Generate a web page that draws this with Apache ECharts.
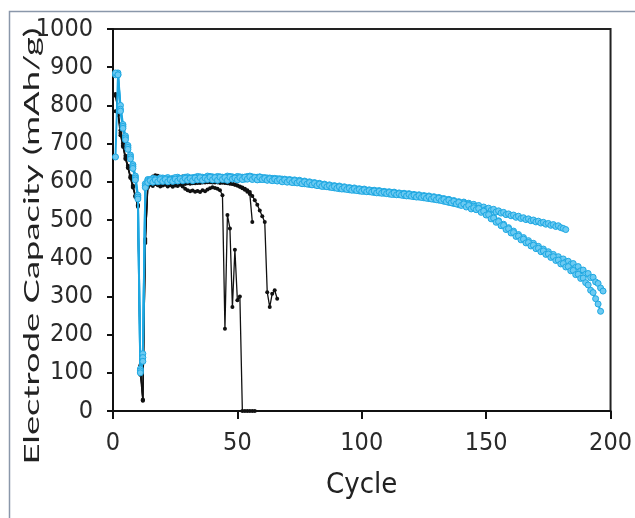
<!DOCTYPE html>
<html>
<head>
<meta charset="utf-8">
<title>Electrode Capacity vs Cycle</title>
<script src="https://cdn.jsdelivr.net/npm/echarts@6/dist/echarts.min.js"></script>
<style>
  html, body { margin: 0; padding: 0; background: #fff; }
  #main { width: 635px; height: 518px; }
</style>
</head>
<body>
<div id="main"></div>
<script>
"use strict";

// x axis ticks / y axis ticks
var cycleTicks = [0, 50, 100, 150, 200];
var capacityTicks = [0, 100, 200, 300, 400, 500, 600, 700, 800, 900, 1000];

// black cells (one value per cycle, starting at cycle 1)
var blackA = [825, 790, 735, 700, 668, 642, 615, 590, 565, 540,
    120, 27, 445, 590,
    592, 589, 594, 591, 588, 590,
    592, 588, 591, 587, 590, 589, 592, 588, 582, 578,
    575, 577, 574, 576, 573, 578, 575, 580, 583, 586,
    584, 582, 578, 565,
    215, 513, 478, 272, 422, 290, 300,
    0, 0, 0, 0, 0, 0];
var blackB = [785, 775, 722, 692, 660, 636, 610, 585, 560, 535,
    95, 28, 440, 595,
    608, 614, 617, 616, 612, 606,
    603, 600, 604, 601, 605, 602, 610, 614, 600, 597,
    598, 596, 599, 597, 600, 598, 601, 599, 600, 598, 601, 599, 600, 598,
    598, 597, 596, 595, 593, 590, 587, 583, 579, 574, 568,
    495];
var blackC = [830, 785, 728, 695, 662, 638, 612, 588, 562, 538,
    110, 30, 450, 585,
    596, 598, 594, 597, 593, 596,
    594, 597, 593, 596, 594, 598, 595, 597, 594, 596,
    595, 598, 596, 599, 597, 600, 598, 601, 599, 600, 598, 599, 597, 598,
    597, 596, 595, 594, 592, 590, 588, 585, 582, 578, 573, 563, 552, 540, 525, 510, 495,
    311, 272, 307, 316, 294];

// blue cells
var blue1 = [880, 885, 800, 750, 720, 695, 670, 645, 615, 565, 110, 150, 595,
    606, 601, 609, 604, 607, 602, 610,
    605, 611, 606, 609, 603, 612, 607, 610, 605, 613,
    608, 611, 606, 614, 609, 612, 607, 615, 610, 613,
    608, 614, 609, 612, 607, 615, 610, 613, 608, 614,
    609, 612, 607, 614, 610, 613, 608, 612, 606, 611,
    606, 610, 605, 609, 604, 608, 603, 607, 602, 605,
    600, 604, 598, 602, 597, 600, 595, 599, 593, 597,
    592, 595, 590, 593, 588, 591, 586, 589, 584, 587,
    582, 586, 581, 584, 579, 583, 578, 581, 576, 580,
    575, 578, 574, 577, 572, 576, 571, 574, 570, 573,
    568, 572, 567, 570, 566, 569, 564, 568, 563, 566,
    561, 565, 560, 563, 558, 562, 556, 560, 554, 558,
    552, 556, 549, 553, 546, 550, 543, 547, 540, 544,
    547, 541, 544, 538, 541, 535, 538, 531, 534, 528,
    531, 525, 528, 521, 524, 518, 520, 514, 516, 511,
    513, 507, 510, 504, 506, 501, 503, 498, 500, 495,
    497, 492, 494, 489, 491, 486, 488, 483, 485, 480,
    478, 475];
var blue2 = [885, 880, 790, 745, 715, 690, 665, 640, 610, 560, 105, 140, 590,
    603, 606, 600, 608, 603, 610, 604,
    609, 602, 607, 604, 611, 603, 609, 605, 612, 606,
    610, 604, 612, 607, 613, 606, 611, 608, 614, 607,
    612, 606, 613, 608, 612, 605, 614, 608, 611, 606,
    613, 607, 612, 609, 615, 608, 612, 606, 613, 607,
    611, 605, 610, 604, 609, 603, 608, 602, 607, 601,
    606, 600, 605, 599, 604, 597, 602, 596, 600, 594,
    598, 592, 596, 590, 594, 589, 592, 587, 590, 585,
    589, 583, 587, 582, 585, 580, 584, 579, 582, 577,
    581, 576, 579, 575, 578, 573, 577, 572, 575, 571,
    574, 569, 573, 568, 571, 567, 570, 565, 569, 564,
    567, 562, 566, 561, 564, 559, 563, 557, 561, 555,
    559, 553, 556, 550, 554, 547, 551, 544, 548, 540,
    545, 538, 541, 533, 536, 528, 531, 522, 525, 515,
    516, 505, 507, 496, 498, 487, 489, 478, 480, 470,
    471, 460, 462, 452, 454, 444, 446, 437, 439, 430,
    431, 422, 424, 415, 417, 408, 410, 402, 404, 396,
    398, 390, 392, 384, 386, 376, 378, 367, 369, 358,
    360, 349, 350, 338, 334, 322, 314];
var blue3 = [665, 880, 785, 740, 710, 685, 660, 635, 605, 555, 100, 130, 585,
    598, 603, 599, 605, 600, 606, 601,
    606, 600, 605, 601, 607, 602, 608, 603, 609, 604,
    609, 603, 610, 605, 611, 604, 610, 606, 612, 605,
    611, 604, 612, 606, 611, 604, 612, 607, 610, 605,
    611, 606, 612, 607, 613, 606, 611, 605, 612, 606,
    609, 604, 608, 603, 607, 602, 606, 600, 605, 599,
    604, 598, 603, 597, 601, 595, 600, 594, 598, 592,
    596, 590, 594, 588, 592, 587, 590, 585, 588, 583,
    587, 581, 585, 580, 583, 578, 582, 577, 580, 575,
    579, 574, 577, 573, 576, 571, 575, 570, 573, 569,
    572, 567, 571, 566, 569, 565, 568, 563, 567, 562,
    565, 560, 564, 559, 562, 557, 561, 555, 559, 553,
    557, 551, 554, 548, 552, 545, 549, 542, 546, 538,
    542, 534, 538, 529, 532, 527, 530, 520, 523, 513,
    514, 503, 505, 494, 496, 485, 486, 475, 477, 466,
    467, 457, 458, 448, 450, 440, 441, 432, 434, 425,
    426, 417, 419, 410, 411, 402, 404, 394, 395, 385,
    386, 377, 378, 367, 368, 357, 358, 347, 348, 336,
    330, 316, 310, 294, 280, 261];

var tickFont = "'Liberation Sans Narrow', 'DejaVu Sans Condensed', sans-serif";

// cycle number = index + 1
function toPairs(arr) {
    return arr.map(function(v, i) {
        return [i + 1, v];
    });
}

function blackSeries(arr) {
    return {
        type: "line",
        data: toPairs(arr),
        symbol: "circle",
        symbolSize: 4,
        showAllSymbol: true,
        z: 2,
        itemStyle: { color: "#111" },
        lineStyle: { color: "#111", width: 1.3 }
    };
}

function blueSeries(arr) {
    return {
        type: "line",
        data: toPairs(arr),
        symbol: "circle",
        symbolSize: 6,
        showAllSymbol: true,
        z: 3,
        itemStyle: { color: "#6ccaf2", borderColor: "#1ea8e2", borderWidth: 1 },
        lineStyle: { color: "#1ea8e2", width: 2 }
    };
}

var myChart = echarts.init(document.getElementById("main"), null, { renderer: "canvas" });

var option = {
    animation: false,
    backgroundColor: "#fff",
    grid: {
        left: 113,
        right: 21,
        top: 29,
        bottom: 107,
        show: true,
        borderColor: "#222",
        borderWidth: 2,
        backgroundColor: "transparent"
    },
    xAxis: {
        type: "value",
        min: cycleTicks[0],
        max: cycleTicks[cycleTicks.length - 1],
        interval: cycleTicks[1] - cycleTicks[0],
        name: "Cycle",
        nameLocation: "middle",
        nameGap: 60,
        nameTextStyle: { fontFamily: tickFont, fontSize: 29, color: "#222" },
        axisLine: { lineStyle: { color: "#111", width: 2 } },
        axisTick: { inside: false, length: 8, lineStyle: { color: "#111", width: 2 } },
        axisLabel: { margin: 20, fontFamily: tickFont, fontSize: 25, color: "#2a2a2a" },
        splitLine: { show: false }
    },
    yAxis: {
        type: "value",
        min: capacityTicks[0],
        max: capacityTicks[capacityTicks.length - 1],
        interval: capacityTicks[1] - capacityTicks[0],
        axisLine: { lineStyle: { color: "#111", width: 2 } },
        axisTick: { inside: false, length: 6, lineStyle: { color: "#111", width: 2 } },
        axisLabel: {
            margin: 20,
            fontFamily: tickFont,
            fontSize: 25,
            color: "#2a2a2a",
            formatter: function(v) { return String(v); }
        },
        splitLine: { show: false }
    },
    graphic: [{
        // outer frame of the figure
        type: "rect",
        left: 7,
        top: 9,
        shape: { width: 700, height: 600 },
        style: { fill: "none", stroke: "#8a97aa", lineWidth: 1.5 },
        silent: true
    }, {
        // y axis title, stretched along its length like the source image
        type: "text",
        x: 32,
        y: 246,
        rotation: Math.PI / 2,
        scaleX: 1.4,
        scaleY: 0.8,
        style: {
            text: "Electrode Capacity (mAh/g)",
            font: "26px Lato, 'Noto Sans', sans-serif",
            fill: "#222",
            align: "center",
            verticalAlign: "middle"
        }
    }],
    series: [
        blackSeries(blackA),
        blackSeries(blackB),
        blackSeries(blackC),
        blueSeries(blue1),
        blueSeries(blue2),
        blueSeries(blue3)
    ]
};

myChart.setOption(option);
</script>
</body>
</html>
